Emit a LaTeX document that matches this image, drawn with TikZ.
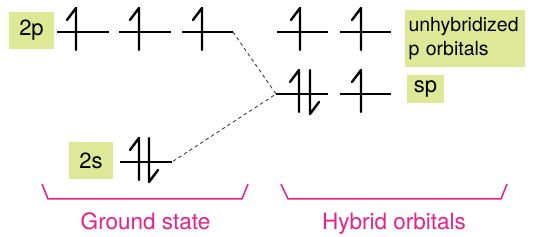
\documentclass[tikz,border=0pt]{standalone}
\usepackage{fontspec}
\setmainfont{TeX Gyre Heros}
\definecolor{boxfill}{RGB}{222,233,152}
\definecolor{pinkline}{RGB}{232,32,140}
\begin{document}
\begin{tikzpicture}[x=1pt,y=-1pt,
  orbline/.style={line width=1.6pt,black},
  arrline/.style={line width=2.4pt,black,line cap=round,line join=round},
  dashline/.style={line width=0.9pt,black!75,dash pattern=on 3.5pt off 3pt},
  brk/.style={line width=1.5pt,pinkline,line join=miter},
  lbox/.style={fill=boxfill,inner sep=0pt,font=\fontsize{22}{26}\selectfont},
  ubox/.style={fill=boxfill,inner sep=0pt,font=\fontsize{19.5}{23.5}\selectfont},
  blabel/.style={pinkline,anchor=base,inner sep=0pt,font=\fontsize{22.5}{26}\selectfont}]
\useasboundingbox (0,0) rectangle (546,237);
\newcommand\upa[2]{\draw[arrline] (#1-9,#2-12) -- (#1,#2-24) -- (#1,#2+18);}
\newcommand\dna[2]{\draw[arrline] (#1,#2-24) -- (#1,#2+20) -- (#1+9,#2+8);}
% labels
\node[lbox,minimum width=45pt,minimum height=37pt] (l2p) at (31.5,30.5) {2p};
\node[lbox,minimum width=44pt,minimum height=37pt] (l2s) at (91,160.5) {2s};
\node[lbox,minimum width=37pt,minimum height=28pt] (lsp) at (425.5,89) {sp};
\node[ubox,minimum width=120pt,minimum height=57pt,align=left,text width=113pt] (lun) at (465,38.5) {unhybridized\\p orbitals};
% ground state 2p
\draw[orbline] (57,32) -- (109,32);
\draw[orbline] (119,32) -- (171,32);
\draw[orbline] (182,32) -- (233,32) coordinate (p3end);
\upa{76}{32}
\upa{139}{32}
\upa{202}{32}
% ground state 2s
\draw[orbline] (120,162) -- (172,162) coordinate (s2end);
\upa{139}{162}
\dna{149}{162}
% hybrid unhybridized p
\draw[orbline] (277,32) -- (328,32);
\draw[orbline] (340,32) -- (391,32);
\upa{300}{32}
\upa{361}{32}
% sp
\draw[orbline] (276,94) coordinate (spstart) -- (328,94);
\draw[orbline] (340,94) -- (391,94);
\upa{299}{94}
\dna{310}{94}
\upa{361}{94}
% dashed connectors
\draw[dashline] (p3end) -- (spstart) -- (s2end);
% brackets
\draw[brk] (42,184) -- (48,199) -- (242,199) -- (248,184);
\draw[brk] (281,184) -- (288,199) -- (501,199) -- (507,184);
\node[blabel] (gs) at (145.5,230) {Ground state};
\node[blabel] (ho) at (394,230) {Hybrid orbitals};
\end{tikzpicture}
\end{document}
